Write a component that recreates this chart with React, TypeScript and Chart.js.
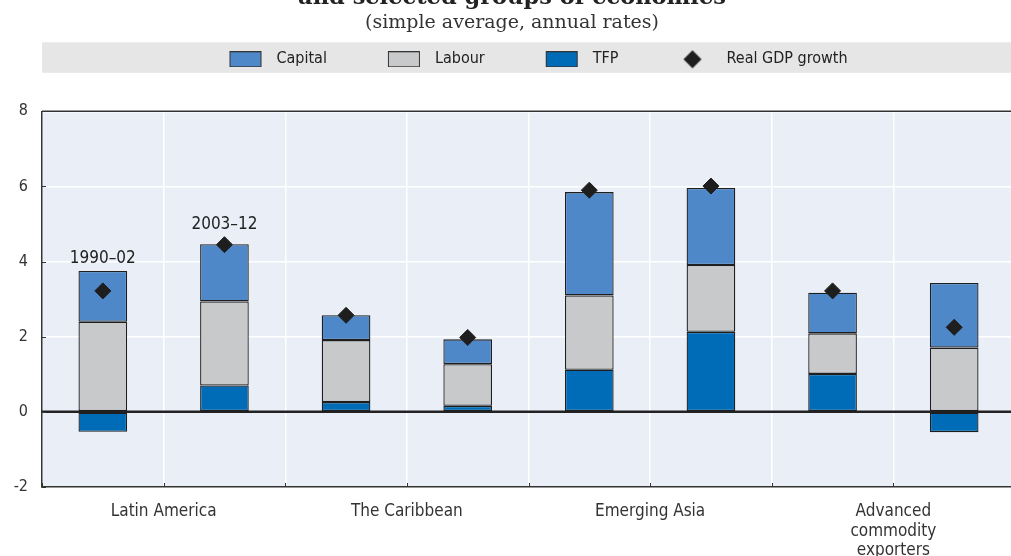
import React, { useEffect, useRef } from 'react';
import { Chart, registerables } from 'chart.js';

Chart.register(...registerables);

// ---------- data ----------
const barCategories = [
  'Latin America 1990–02', 'Latin America 2003–12',
  'The Caribbean 1990–02', 'The Caribbean 2003–12',
  'Emerging Asia 1990–02', 'Emerging Asia 2003–12',
  'Advanced commodity exporters 1990–02', 'Advanced commodity exporters 2003–12',
];
const groupLabels: (string | string[])[] = [
  'Latin America', 'The Caribbean', 'Emerging Asia', ['Advanced', 'commodity', 'exporters'],
];
const periodLabels = ['1990–02', '2003–12'];
const seriesNames = ['Capital', 'Labour', 'TFP', 'Real GDP growth'];

const capital = [1.35, 1.52, 0.66, 0.66, 2.75, 2.05, 1.08, 1.72];
const labour = [2.40, 2.24, 1.65, 1.11, 1.98, 1.78, 1.08, 1.71];
const tfp = [-0.53, 0.70, 0.26, 0.16, 1.12, 2.13, 1.01, -0.54];
const gdp = [3.22, 4.45, 2.57, 1.98, 5.90, 6.01, 3.22, 2.25];

const yTicks = [-2, 0, 2, 4, 6, 8];

// ---------- styles ----------
const SANS = "'DejaVu Sans Condensed', 'Liberation Sans Narrow', 'DejaVu Sans', sans-serif";
const SERIF = "'DejaVu Serif', serif";
const C = {
  capital: '#4f88c8',
  labour: '#c8c9cb',
  tfp: '#006cb7',
  gdp: '#1e1e1e',
  plot: '#e9eef7',
  band: '#e6e6e6',
  frame: '#333333',
  text: '#222222',
  barBorder: '#1e1e1e',
};

const LEGEND_W = 92;

function boxImage(fill: string) {
  const c = document.createElement('canvas');
  c.width = LEGEND_W;
  c.height = 16;
  const g = c.getContext('2d')!;
  const L = 53;
  g.fillStyle = C.frame;
  g.fillRect(L, 0, 32, 16);
  g.fillStyle = fill;
  g.fillRect(L + 1, 1, 30, 14);
  return c;
}

function diamondImage() {
  const c = document.createElement('canvas');
  c.width = LEGEND_W;
  c.height = 20;
  const g = c.getContext('2d')!;
  const cx = 66;
  const cy = 10;
  const r = 9;
  g.fillStyle = C.gdp;
  g.beginPath();
  g.moveTo(cx - r, cy);
  g.lineTo(cx, cy - r);
  g.lineTo(cx + r, cy);
  g.lineTo(cx, cy + r);
  g.closePath();
  g.fill();
  return c;
}

const framePlugin = {
  id: 'framePlugin',
  beforeDraw(chart: any) {
    const { ctx, chartArea, legend } = chart;
    ctx.save();
    ctx.fillStyle = C.plot;
    ctx.fillRect(chartArea.left, chartArea.top, chartArea.right - chartArea.left, chartArea.bottom - chartArea.top);
    if (legend) {
      const itemTop = legend.top + legend.options.labels.padding;
      ctx.fillStyle = C.band;
      ctx.fillRect(chartArea.left, itemTop - 9, chart.width - chartArea.left, 30.5);
    }
    ctx.restore();
  },
  beforeDatasetsDraw(chart: any) {
    const { ctx, chartArea } = chart;
    const y = chart.scales.y;
    ctx.save();
    ctx.strokeStyle = C.frame;
    ctx.lineWidth = 1.5;
    ctx.beginPath();
    ctx.moveTo(chartArea.left, chartArea.top);
    ctx.lineTo(chartArea.right, chartArea.top);
    ctx.stroke();
    const y0 = y.getPixelForValue(0);
    ctx.strokeStyle = C.text;
    ctx.lineWidth = 2.5;
    ctx.beginPath();
    ctx.moveTo(chartArea.left, y0);
    ctx.lineTo(chartArea.right, y0);
    ctx.stroke();
    ctx.restore();
  },
  afterDatasetsDraw(chart: any) {
    const { ctx, chartArea } = chart;
    const x = chart.scales.x;
    const y = chart.scales.y;
    ctx.save();
    // small inner tick marks
    ctx.strokeStyle = C.frame;
    ctx.lineWidth = 1;
    for (let i = 0; i <= barCategories.length; i++) {
      const px = Math.round(x.getPixelForValue(i - 0.5)) + 0.5;
      ctx.beginPath();
      ctx.moveTo(px, chartArea.bottom);
      ctx.lineTo(px, chartArea.bottom - 4);
      ctx.stroke();
    }
    yTicks.forEach((v) => {
      const py = Math.round(y.getPixelForValue(v)) + 0.5;
      ctx.beginPath();
      ctx.moveTo(chartArea.left, py);
      ctx.lineTo(chartArea.left + 4, py);
      ctx.stroke();
    });
    // period labels above first group
    ctx.fillStyle = C.text;
    ctx.font = `17px ${SANS}`;
    ctx.textAlign = 'center';
    ctx.textBaseline = 'middle';
    periodLabels.forEach((txt, i) => {
      const posTop = [tfp[i], labour[i], capital[i]].filter((v) => v > 0).reduce((a, b) => a + b, 0);
      const barTop = y.getPixelForValue(posTop);
      const dTop = y.getPixelForValue(gdp[i]) - 8.5;
      const py = Math.min(barTop, dTop) - 12;
      ctx.fillText(txt, x.getPixelForValue(i), py);
    });
    ctx.restore();
  },
};

export default function App() {
  const ref = useRef<HTMLCanvasElement | null>(null);

  useEffect(() => {
    if (!ref.current) return;
    const images: Record<number, HTMLCanvasElement> = {
      0: boxImage(C.capital),
      1: boxImage(C.labour),
      2: boxImage(C.tfp),
      3: diamondImage(),
    };
    // dataset indices: 0 TFP, 1 Labour, 2 Capital, 3 GDP
    const dsIndexOfSeries = [2, 1, 0, 3];

    const barCommon = {
      xAxisID: 'x',
      yAxisID: 'y',
      borderColor: C.barBorder,
      borderWidth: 1.3,
      borderSkipped: false as const,
      barPercentage: 0.4,
      categoryPercentage: 1,
    };

    const chart = new Chart(ref.current, {
      type: 'bar',
      data: {
        labels: barCategories,
        datasets: [
          { ...barCommon, label: seriesNames[2], data: tfp, backgroundColor: C.tfp },
          { ...barCommon, label: seriesNames[1], data: labour, backgroundColor: C.labour },
          { ...barCommon, label: seriesNames[0], data: capital, backgroundColor: C.capital },
          {
            type: 'line' as const,
            label: seriesNames[3],
            data: gdp,
            xAxisID: 'x',
            yAxisID: 'y',
            stack: 'gdp',
            showLine: false,
            pointStyle: 'rectRot',
            pointRadius: 8,
            pointBorderWidth: 1,
            pointBackgroundColor: C.gdp,
            pointBorderColor: C.gdp,
            order: -1,
          } as any,
        ],
      },
      options: {
        responsive: false,
        animation: false,
        devicePixelRatio: 1,
        events: [],
        layout: { padding: 0 },
        plugins: {
          title: {
            display: true,
            text: 'and selected groups of economies',
            font: { family: SERIF, size: 22.5, weight: 'bold' },
            color: C.text,
            padding: { top: 4.5, bottom: 0 },
          },
          subtitle: {
            display: true,
            text: '(simple average, annual rates)',
            font: { family: SERIF, size: 19 },
            color: '#333333',
            padding: { top: 0, bottom: 9 },
          },
          legend: {
            display: true,
            position: 'top',
            labels: {
              usePointStyle: true,
              pointStyleWidth: LEGEND_W,
              boxHeight: 16,
              padding: 8,
              font: { family: SANS, size: 16 },
              color: C.text,
              generateLabels: () =>
                [0, 1, 2, 3].map((s) => ({
                  text: seriesNames[s],
                  pointStyle: images[s],
                  fillStyle: 'rgba(0,0,0,0)',
                  strokeStyle: 'rgba(0,0,0,0)',
                  lineWidth: 0,
                  hidden: false,
                  fontColor: C.text,
                  datasetIndex: dsIndexOfSeries[s],
                })) as any,
            },
          },
          tooltip: { enabled: false },
        },
        scales: {
          x: {
            type: 'category',
            axis: 'x',
            position: 'bottom',
            offset: true,
            stacked: true,
            weight: 0,
            grid: { offset: true, color: '#ffffff', lineWidth: 1.5, drawTicks: false },
            border: { display: true, color: C.frame, width: 1.5 },
            ticks: { display: false },
          },
          xg: {
            type: 'category',
            axis: 'x',
            position: 'bottom',
            labels: groupLabels as any,
            offset: true,
            weight: 1,
            grid: { display: false, drawTicks: false },
            border: { display: false },
            ticks: {
              padding: 15,
              autoSkip: false,
              maxRotation: 0,
              font: { family: SANS, size: 17, lineHeight: 1.15 },
              color: '#333333',
            },
            afterFit: (s: any) => {
              s.height = 73;
            },
          },
          pad: {
            type: 'category',
            axis: 'x',
            position: 'top',
            labels: [''],
            grid: { display: false, drawTicks: false },
            border: { display: false },
            ticks: { display: false },
            afterFit: (s: any) => {
              s.height = 34;
            },
          },
          y: {
            type: 'linear',
            stacked: true,
            min: yTicks[0],
            max: yTicks[yTicks.length - 1],
            afterFit: (s: any) => {
              s.width = 42;
            },
            afterBuildTicks: (s: any) => {
              s.ticks = yTicks.map((v) => ({ value: v }));
            },
            grid: {
              color: (ctx: any) => (ctx.tick && ctx.tick.value === 0 ? 'rgba(0,0,0,0)' : '#ffffff'),
              lineWidth: 1.5,
              drawTicks: false,
            },
            border: { display: true, color: C.frame, width: 1.5 },
            ticks: {
              padding: 14,
              font: { family: SANS, size: 16 },
              color: '#333333',
            },
          },
        } as any,
      },
      plugins: [framePlugin],
    });
    return () => chart.destroy();
  }, []);

  return (
    <div style={{ position: 'absolute', left: 0, top: 0, width: 1011, height: 556, overflow: 'hidden', background: '#ffffff' }}>
      <div style={{ position: 'absolute', left: 0, top: -20, width: 1024, height: 580 }}>
        <canvas ref={ref} width={1024} height={580} style={{ display: 'block', width: 1024, height: 580 }} />
      </div>
    </div>
  );
}
